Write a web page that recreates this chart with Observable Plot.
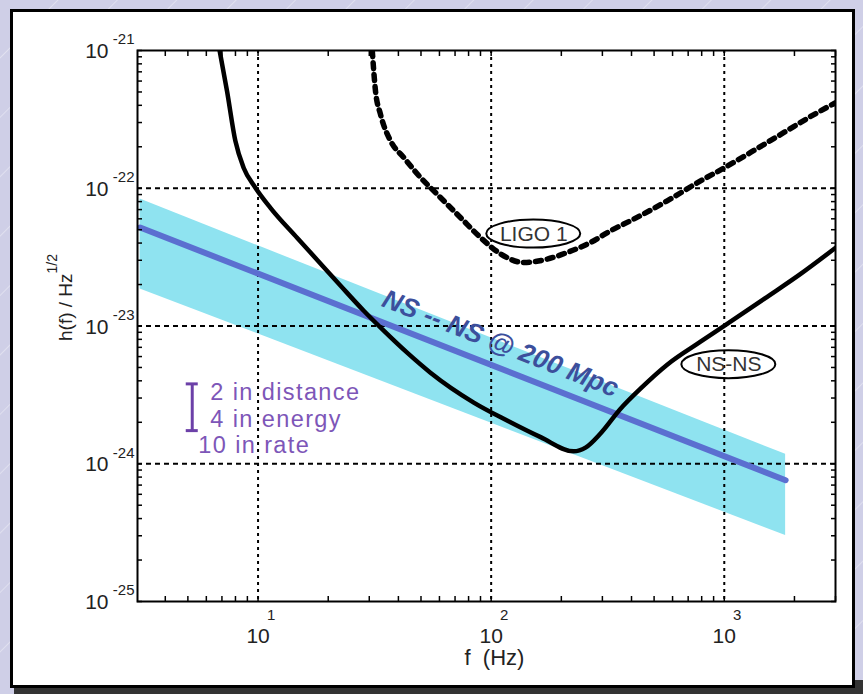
<!DOCTYPE html>
<html>
<head>
<meta charset="utf-8">
<script src="https://cdn.jsdelivr.net/npm/d3@7"></script>
<script src="https://cdn.jsdelivr.net/npm/@observablehq/plot@0.6"></script>
<style>
html, body { margin: 0; padding: 0; }
body {
  width: 863px; height: 694px; overflow: hidden; position: relative;
  background-color: #cfcfe7;
  background-image: repeating-linear-gradient(135deg, rgba(255,255,255,0) 0px, rgba(255,255,255,0) 40px, rgba(255,255,255,0.35) 41px, rgba(255,255,255,0) 42px);
}
#shadow { position: absolute; left: 14px; top: 680px; width: 849px; height: 14px; background: #333; }
#panel { position: absolute; left: 10px; top: 9px; width: 845px; height: 679px; box-sizing: border-box; border: 3px solid #000; background: #fff; }
#chart { position: absolute; left: 0; top: 0; }
</style>
</head>
<body>
<div id="shadow"></div>
<div id="panel"></div>
<div id="chart"></div>
<script>
// ---- data ----
const xMajor = [10, 100, 1000];
const xExp = ["1", "2", "3"];
const xMinor = [4, 5, 6, 7, 8, 9, 20, 30, 40, 50, 60, 70, 80, 90, 200, 300, 400, 500, 600, 700, 800, 900, 2000, 3000];
const yMajor = [1e-21, 1e-22, 1e-23, 1e-24, 1e-25];
const yExp = ["-21", "-22", "-23", "-24", "-25"];
const yGrid = [1e-22, 1e-23, 1e-24];
const yMinor = [2e-22, 3e-22, 4e-22, 5e-22, 6e-22, 7e-22, 8e-22, 9e-22,
                2e-23, 3e-23, 4e-23, 5e-23, 6e-23, 7e-23, 8e-23, 9e-23,
                2e-24, 3e-24, 4e-24, 5e-24, 6e-24, 7e-24, 8e-24, 9e-24,
                2e-25, 3e-25, 4e-25, 5e-25, 6e-25, 7e-25, 8e-25, 9e-25];

// NS-NS (advanced LIGO) sensitivity, solid
const nsnsF = [6.84, 7.36, 7.99, 8.67, 9.74, 11.3, 14.7, 17.9, 22.6, 28.4, 34.6, 43.6, 54.9, 84.2, 117, 163, 226, 254, 294.5, 359, 437, 569, 791, 1003, 1529, 2126, 3004];
const nsnsH = [1.0e-21, 5.08e-22, 2.21e-22, 1.41e-22, 1.01e-22, 7.21e-23, 4.37e-23, 3.03e-23, 1.96e-23, 1.29e-23, 9.25e-24, 6.4e-24, 4.58e-24, 2.78e-24, 2.06e-24, 1.56e-24, 1.23e-24, 1.31e-24, 1.66e-24, 2.51e-24, 3.51e-24, 5.24e-24, 7.69e-24, 1.005e-23, 1.63e-23, 2.39e-23, 3.7e-23];

// LIGO 1 sensitivity, dashed
const ligoF = [30.9, 31.9, 33.5, 37.0, 42.2, 49.7, 58.6, 73.8, 90, 110, 138, 174, 212, 267, 325, 409, 569, 791, 1003, 1297, 1803, 2507, 3004];
const ligoH = [1.0e-21, 5.08e-22, 3.45e-22, 2.21e-22, 1.67e-22, 1.2e-22, 9.06e-23, 6.13e-23, 4.39e-23, 3.33e-23, 2.89e-23, 3.06e-23, 3.42e-23, 4.04e-23, 4.91e-23, 5.97e-23, 8.1e-23, 1.13e-22, 1.41e-22, 1.82e-22, 2.54e-22, 3.54e-22, 4.18e-22];

// NS--NS @ 200 Mpc signal band
const bandF = [3.12, 1833];
const bandHi = [8.34e-23, 1.17e-24];
const bandMid = [5.19e-23, 7.59e-25];
const bandLo = [1.86e-23, 3.01e-25];

// annotations (data coordinates)
const nsLabel = {f: 109.7, h: 7.45e-24, t: "NS -- NS @ 200 Mpc"};
const curveLabels = [{f: 152.3, h: 4.65e-23, t: "LIGO 1"}, {f: 1046, h: 5.24e-24, t: "NS-NS"}];
const legendLines = [
  {f: 6.24, h: 3.29e-24, t: "2 in distance"},
  {f: 6.24, h: 2.11e-24, t: "4 in energy"},
  {f: 5.54, h: 1.357e-24, t: "10 in rate"}
];
const legendBar = {f: 5.22, f1: 4.92, f2: 5.54, hi: 3.8e-24, lo: 1.74e-24};
const xTitle = {f: 103.3, t: "f  (Hz)"};
const yTitle = {h: 7.72e-24, t: "h(f) / Hz", sup: "1/2"};

// ---- tables ----
const band = bandF.map((f, i) => ({f, hi: bandHi[i], mid: bandMid[i], lo: bandLo[i]}));
const nsns = nsnsF.map((f, i) => ({f, h: nsnsH[i]}));
const ligo = ligoF.map((f, i) => ({f, h: ligoH[i]}));
const xTickAll = [...xMajor, ...xMinor];
const yTickAll = [...yMajor, ...yMinor];

const font = "'Liberation Sans', Arial, Helvetica, sans-serif";
const purple = "#7d56b8";
const ink = "#222";

const plot = Plot.plot({
  width: 863, height: 694,
  marginLeft: 137, marginRight: 28, marginTop: 50, marginBottom: 93,
  style: {background: "transparent", fontFamily: font, overflow: "visible", color: "#000"},
  x: {type: "log", domain: [3.04, 3000]},
  y: {type: "log", domain: [1e-25, 1e-21]},
  marks: [
    Plot.areaY(band, {x: "f", y1: "lo", y2: "hi", fill: "#8fe3f0"}),
    Plot.gridX(xMajor, {stroke: "#000", strokeOpacity: 1, strokeWidth: 2, strokeDasharray: "3,4"}),
    Plot.gridY(yGrid, {stroke: "#000", strokeOpacity: 1, strokeWidth: 2, strokeDasharray: "5,4"}),
    Plot.line(band, {x: "f", y: "mid", stroke: "#5b6fd0", strokeWidth: 6}),
    Plot.line(ligo, {x: "f", y: "h", stroke: "#000", strokeWidth: 5.5, strokeDasharray: "6,6", strokeLinecap: "round", curve: "monotone-x", clip: true}),
    Plot.line(nsns, {x: "f", y: "h", stroke: "#000", strokeWidth: 4.5, curve: "monotone-x", clip: true}),
    // inward ticks on all four sides
    Plot.axisX(xTickAll, {anchor: "bottom", tickSize: 5, dy: -5, fill: "none", stroke: "#000", strokeWidth: 1.5, label: null}),
    Plot.axisX(xTickAll, {anchor: "top", tickSize: 5, dy: 5, fill: "none", stroke: "#000", strokeWidth: 1.5, label: null}),
    Plot.axisY(yTickAll, {anchor: "left", tickSize: 5, dx: 5, fill: "none", stroke: "#000", strokeWidth: 1.5, label: null}),
    Plot.axisY(yTickAll, {anchor: "right", tickSize: 5, dx: -5, fill: "none", stroke: "#000", strokeWidth: 1.5, label: null}),
    Plot.frame({stroke: "#000", strokeWidth: 2}),
    // tick labels
    Plot.text(xMajor, {x: d => d, frameAnchor: "bottom", text: d => "10", dy: 41, fontSize: 21, fill: ink}),
    Plot.text(xMajor, {x: d => d, frameAnchor: "bottom", text: (d, i) => xExp[i], dx: 13, dy: 18, fontSize: 15, fill: ink}),
    Plot.text(yMajor, {y: d => d, frameAnchor: "left", text: d => "10", textAnchor: "end", dx: -29, dy: 1, fontSize: 21, fill: ink}),
    Plot.text(yMajor, {y: d => d, frameAnchor: "left", text: (d, i) => yExp[i], textAnchor: "end", dx: -3, dy: -11, fontSize: 15, fill: ink}),
    // x axis title
    Plot.text([xTitle], {x: "f", frameAnchor: "bottom", text: "t", dy: 63, fontSize: 22, fill: ink}),
    // band label
    Plot.text([nsLabel], {x: "f", y: "h", text: "t", rotate: 21.4, fontSize: 26.5, fontWeight: "bold", fontStyle: "italic", fill: "#3c4f9c"}),
    // curve labels
    Plot.text(curveLabels, {x: "f", y: "h", text: "t", fontSize: 21, fill: "#333"}),
    // legend
    Plot.ruleX([legendBar], {x: "f", y1: "lo", y2: "hi", stroke: "#6c40a8", strokeWidth: 3}),
    Plot.ruleY([legendBar.hi, legendBar.lo], {y: d => d, x1: legendBar.f1, x2: legendBar.f2, stroke: "#6c40a8", strokeWidth: 3}),
    Plot.text(legendLines, {x: "f", y: "h", text: "t", textAnchor: "start", fontSize: 23.5, fill: purple})
  ]
});

const sx = plot.scale("x"), sy = plot.scale("y");
const svg = d3.select(plot);
const legendTexts = new Set(legendLines.map(d => d.t));
svg.selectAll("text")
  .filter(function() { return legendTexts.has(this.textContent); })
  .style("letter-spacing", "1.4px");
curveLabels.forEach(d => {
  svg.append("ellipse")
    .attr("cx", sx.apply(d.f)).attr("cy", sy.apply(d.h))
    .attr("rx", 47).attr("ry", 14)
    .attr("fill", "none").attr("stroke", "#000").attr("stroke-width", 2);
});
// y axis title with superscript (rotated), placed with the y scale
const yt = svg.append("text")
  .attr("transform", `translate(${137 - 65},${sy.apply(yTitle.h)}) rotate(-90)`)
  .attr("text-anchor", "start")
  .attr("fill", ink)
  .attr("font-family", font)
  .attr("font-size", 19);
yt.append("tspan").text(yTitle.t);
yt.append("tspan").attr("dy", -15).attr("font-size", 14).text(yTitle.sup);

document.getElementById("chart").appendChild(plot);
</script>
</body>
</html>
